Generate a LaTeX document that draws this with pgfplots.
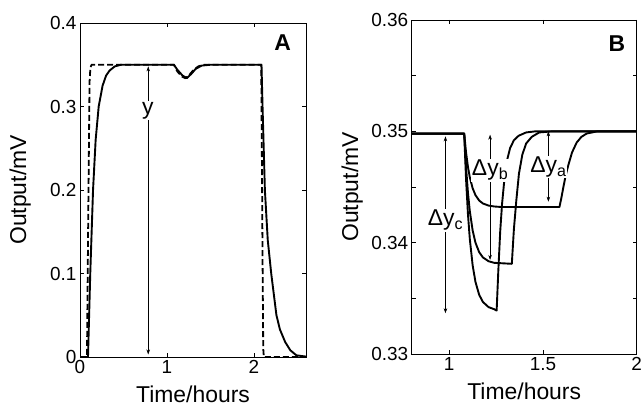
\documentclass[border=0pt]{standalone}
\usepackage{fontspec}
\setmainfont{Liberation Sans}
\usepackage{pgfplots}
\pgfplotsset{compat=1.18}
\usetikzlibrary{arrows.meta}
\tikzset{
  curve/.style={black, line width=1.9pt, line join=round},
  dcurve/.style={black, line width=1.8pt, dash pattern=on 6bp off 3bp},
  arr/.style={{Stealth[length=5bp,width=3.5bp]}-{Stealth[length=5bp,width=3.5bp]}, line width=0.5pt},
  lab/.style={fill=white, inner sep=1pt, font=\fontsize{23}{26}\selectfont},
}
\pgfplotsset{
  myax/.style={
    scale only axis,
    tick align=inside,
    axis line style={line width=0.8pt},
    every tick/.style={black, line width=0.6pt},
    major tick length=4bp,
    minor tick length=4bp,
    tick label style={font=\fontsize{19}{21}\selectfont},
    label style={font=\fontsize{23}{26}\selectfont},
    xlabel style={at={(axis description cs:0.5,-0.111)}, anchor=center},
    ylabel style={at={(axis description cs:-0.265,0.5)}, anchor=center},
    clip=true,
  },
}
\begin{document}
\begin{tikzpicture}
\begin{axis}[myax,
  at={(80bp,50bp)}, anchor=south west,
  width=226bp, height=334bp,
  xmin=0, xmax=2.6, ymin=0, ymax=0.4,
  xtick={0,1,2}, xticklabels={0,1,2},
  ytick={0,0.1,0.2,0.3,0.4}, yticklabels={0,0.1,0.2,0.3,0.4},
  xlabel={Time/hours}, ylabel={Output/mV},
]
\addplot[dcurve] coordinates {
(0,0) (0.08,0) (0.095,0.17) (0.11,0.33) (0.12,0.347) (0.135,0.35) (1.08,0.35)
(1.12,0.342) (1.17,0.336) (1.21,0.334) (1.25,0.337) (1.3,0.343) (1.36,0.348) (1.42,0.35)
(2.085,0.35) (2.092,0.25) (2.1,0.12) (2.108,0.01) (2.115,0) (2.6,0)
};
\addplot[curve] coordinates {
(0,0) (0.092,0) (0.118,0.1) (0.15,0.2) (0.18,0.26) (0.215,0.3) (0.26,0.325)
(0.3,0.337) (0.34,0.343) (0.4,0.348) (0.47,0.35) (1.08,0.35)
(1.12,0.344) (1.18,0.337) (1.23,0.334) (1.28,0.339) (1.33,0.345) (1.4,0.349) (1.5,0.35)
(2.088,0.35) (2.10,0.3) (2.127,0.2) (2.16,0.14) (2.2,0.1) (2.26,0.05) (2.3,0.033)
(2.36,0.018) (2.42,0.008) (2.49,0.002) (2.6,0.0005)
};
\draw[arr] (axis cs:0.785,0.003) -- (axis cs:0.785,0.348);
\node[lab] at (axis cs:0.78,0.295) {y};
\node[font=\bfseries\fontsize{23}{25}\selectfont] at (axis cs:2.33,0.376) {A};
\end{axis}

\begin{axis}[myax,
  at={(411.7bp,53bp)}, anchor=south west,
  width=225bp, height=334bp,
  xmin=0.8, xmax=2, ymin=0.33, ymax=0.36,
  xtick={1,1.5,2}, xticklabels={1,1.5,2},
  ytick={0.33,0.34,0.35,0.36}, yticklabels={0.33,0.34,0.35,0.36},
  minor ytick={0.335,0.345,0.355},
  xlabel={Time/hours}, ylabel={Output/mV},
]
% curve a
\addplot[curve] coordinates {
(0.8,0.3498) (1.08,0.3498) (1.09,0.34808) (1.10,0.3468) (1.11,0.34586) (1.125,0.34489)
(1.14,0.34427) (1.16,0.34378) (1.18,0.34352) (1.21,0.34333) (1.24,0.34325) (1.28,0.3432)
(1.588,0.3432) (1.598,0.3440) (1.609,0.3450) (1.622,0.3461) (1.636,0.3470) (1.655,0.3481)
(1.68,0.3490) (1.705,0.3495) (1.733,0.3498) (1.79,0.3500) (2.0,0.3500)
};
% curve b
\addplot[curve] coordinates {
(0.8,0.3498) (1.08,0.3498) (1.09,0.34675) (1.10,0.34448) (1.11,0.34282) (1.125,0.3411)
(1.14,0.3400) (1.16,0.33914) (1.18,0.33867) (1.21,0.33833) (1.24,0.33819) (1.334,0.3381)
(1.345,0.3412) (1.358,0.3438) (1.372,0.3462) (1.39,0.3479) (1.41,0.3489) (1.44,0.3495)
(1.48,0.3499) (1.55,0.3500) (2.0,0.3500)
};
% curve c
\addplot[curve] coordinates {
(0.8,0.3498) (1.08,0.3498) (1.09,0.34565) (1.10,0.34257) (1.11,0.34031) (1.125,0.33797)
(1.14,0.33648) (1.16,0.33531) (1.18,0.33467) (1.21,0.33421) (1.24,0.33402) (1.253,0.3339)
(1.262,0.3375) (1.272,0.3410) (1.282,0.3435) (1.295,0.3458) (1.31,0.3475) (1.325,0.3485)
(1.345,0.3492) (1.37,0.3496) (1.41,0.3499) (1.46,0.3500) (2.0,0.3500)
};
\draw[arr] (axis cs:0.98,0.34955) -- (axis cs:0.98,0.33366);
\node[lab] at (axis cs:0.98,0.3420) {Δy\textsubscript{c}};
\draw[arr] (axis cs:1.218,0.3497) -- (axis cs:1.218,0.33845);
\node[lab] at (axis cs:1.218,0.3465) {Δy\textsubscript{b}};
\draw[arr] (axis cs:1.529,0.3500) -- (axis cs:1.529,0.34368);
\node[lab] at (axis cs:1.529,0.3468) {Δy\textsubscript{a}};
\node[font=\bfseries\fontsize{23}{25}\selectfont] at (axis cs:1.894,0.3579) {B};
\end{axis}
\pgfresetboundingbox
\useasboundingbox (0bp,0bp) rectangle (641bp,407bp);
\end{tikzpicture}
\end{document}
